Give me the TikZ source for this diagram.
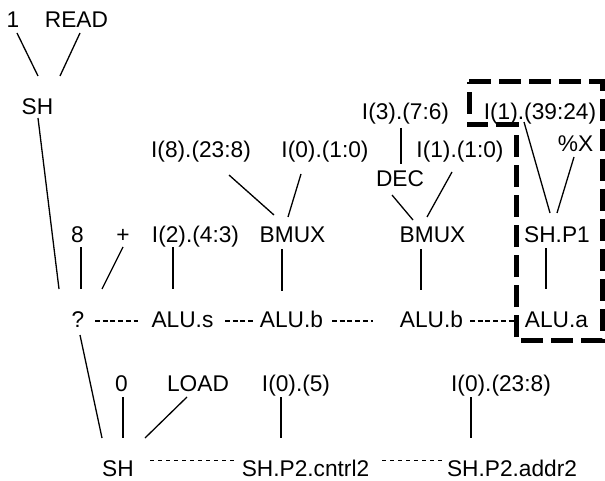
\documentclass[tikz,border=0pt]{standalone}
\usepackage{fontspec}
\setmainfont{Liberation Sans}
\begin{document}
\begin{tikzpicture}[x=1pt,y=-1pt,
  lbl/.style={anchor=base, inner sep=0pt, font=\fontsize{22.7}{27}\selectfont},
  edge/.style={line width=1.3pt},
  dotmid/.style={line width=1.2pt, dash pattern=on 5pt off 2.7pt},
  dotlow/.style={line width=1pt, dash pattern=on 4pt off 4pt},
  hibox/.style={line width=5pt, dash pattern=on 22pt off 8pt, line join=miter}]
\useasboundingbox (0,0) rectangle (605,481);
% nodes
\node[lbl] (one)   at (13,28)    {1};
\node[lbl] (read)  at (76.5,28)  {READ};
\node[lbl] (shA)   at (37.5,115) {SH};
\node[lbl] (i8)    at (201,158)  {I(8).(23:8)};
\node[lbl] (i0a)   at (325,158)  {I(0).(1:0)};
\node[lbl] (i3)    at (405.5,120){I(3).(7:6)};
\node[lbl] (i1a)   at (460,158)  {I(1).(1:0)};
\node[lbl] (dec)   at (400,187)  {DEC};
\node[lbl] (i1b)   at (540,120)  {I(1).(39:24)};
\node[lbl] (px)    at (575.5,152){\%X};
\node[lbl] (n8)    at (77.5,243) {8};
\node[lbl] (plus)  at (123,243)  {+};
\node[lbl] (i2)    at (195.5,243){I(2).(4:3)};
\node[lbl] (bmuxA) at (292.5,243){BMUX};
\node[lbl] (bmuxB) at (432.5,243){BMUX};
\node[lbl] (shp1)  at (557,243)  {SH.P1};
\node[lbl] (q)     at (78,327)   {?};
\node[lbl] (alus)  at (182.5,327){ALU.s};
\node[lbl] (alubA) at (291.5,327){ALU.b};
\node[lbl] (alubB) at (431.5,327){ALU.b};
\node[lbl] (alua)  at (556.5,327){ALU.a};
\node[lbl] (n0)    at (121.5,391){0};
\node[lbl] (load)  at (198,391)  {LOAD};
\node[lbl] (i05)   at (296,391)  {I(0).(5)};
\node[lbl] (i023)  at (501,391)  {I(0).(23:8)};
\node[lbl] (shB)   at (118,476)  {SH};
\node[lbl] (cntrl) at (305.5,476){SH.P2.cntrl2};
\node[lbl] (addr)  at (512,476)  {SH.P2.addr2};
% tree edges
\draw[edge] ([shift={(4,5)}]one.base) -- ([shift={(0.5,-39)}]shA.base);
\draw[edge] ([shift={(3.5,5)}]read.base) -- ([shift={(22.5,-39)}]shA.base);
\draw[edge] ([shift={(0.5,3)}]shA.base) -- ([shift={(-19,-38)}]q.base);
\draw[edge] ([shift={(3.5,4)}]n8.base) -- ([shift={(3,-38)}]q.base);
\draw[edge] ([shift={(0,4)}]plus.base) -- ([shift={(24,-38)}]q.base);
\draw[edge] ([shift={(-22.5,4)}]i2.base) -- ([shift={(-9.5,-38)}]alus.base);
\draw[edge] ([shift={(28,17)}]i8.base) -- ([shift={(-18.5,-28)}]bmuxA.base);
\draw[edge] ([shift={(-24,16)}]i0a.base) -- ([shift={(-4.5,-26)}]bmuxA.base);
\draw[edge] ([shift={(-10.5,6)}]bmuxA.base) -- ([shift={(-9.5,-36)}]alubA.base);
\draw[edge] ([shift={(-4.5,8)}]i3.base) -- ([shift={(1,-23)}]dec.base);
\draw[edge] ([shift={(-8,8)}]dec.base) -- ([shift={(-19.5,-23)}]bmuxB.base);
\draw[edge] ([shift={(-8,14)}]i1a.base) -- ([shift={(-5.5,-26)}]bmuxB.base);
\draw[edge] ([shift={(-11.5,6)}]bmuxB.base) -- ([shift={(-10.5,-37)}]alubB.base);
\draw[edge] ([shift={(-16,2)}]i1b.base) -- ([shift={(-7,-30)}]shp1.base);
\draw[edge] ([shift={(-1.5,5)}]px.base) -- ([shift={(0,-30)}]shp1.base);
\draw[edge] ([shift={(-11,5)}]shp1.base) -- ([shift={(-10.5,-38)}]alua.base);
\draw[edge] ([shift={(2,8)}]q.base) -- ([shift={(-16,-38)}]shB.base);
\draw[edge] ([shift={(1.5,6)}]n0.base) -- ([shift={(5,-38)}]shB.base);
\draw[edge] ([shift={(-11,6)}]load.base) -- ([shift={(27,-38)}]shB.base);
\draw[edge] ([shift={(-15,6)}]i05.base) -- ([shift={(-24.5,-38)}]cntrl.base);
\draw[edge] ([shift={(-30,6)}]i023.base) -- ([shift={(-41,-38)}]addr.base);
% dotted links
\draw[dotmid] ([shift={(17,-6)}]q.base) -- ([shift={(-44.5,-6)}]alus.base);
\draw[dotmid] ([shift={(42.5,-6)}]alus.base) -- ([shift={(-38.5,-6)}]alubA.base);
\draw[dotmid] ([shift={(40.5,-6)}]alubA.base) -- ([shift={(-58.5,-6)}]alubB.base);
\draw[dotmid] ([shift={(38.5,-6)}]alubB.base) -- ([shift={(-41.5,-6)}]alua.base);
\draw[dotlow] ([shift={(32,-16)}]shB.base) -- ([shift={(-68.5,-16)}]cntrl.base);
\draw[dotlow] ([shift={(76.5,-16)}]cntrl.base) -- ([shift={(-69,-16)}]addr.base);
% highlight box
\draw[hibox] (469,82) -- (602,82) -- (602,340) -- (516,340) -- (516,125) -- (469,125) -- cycle;
\end{tikzpicture}
\end{document}
